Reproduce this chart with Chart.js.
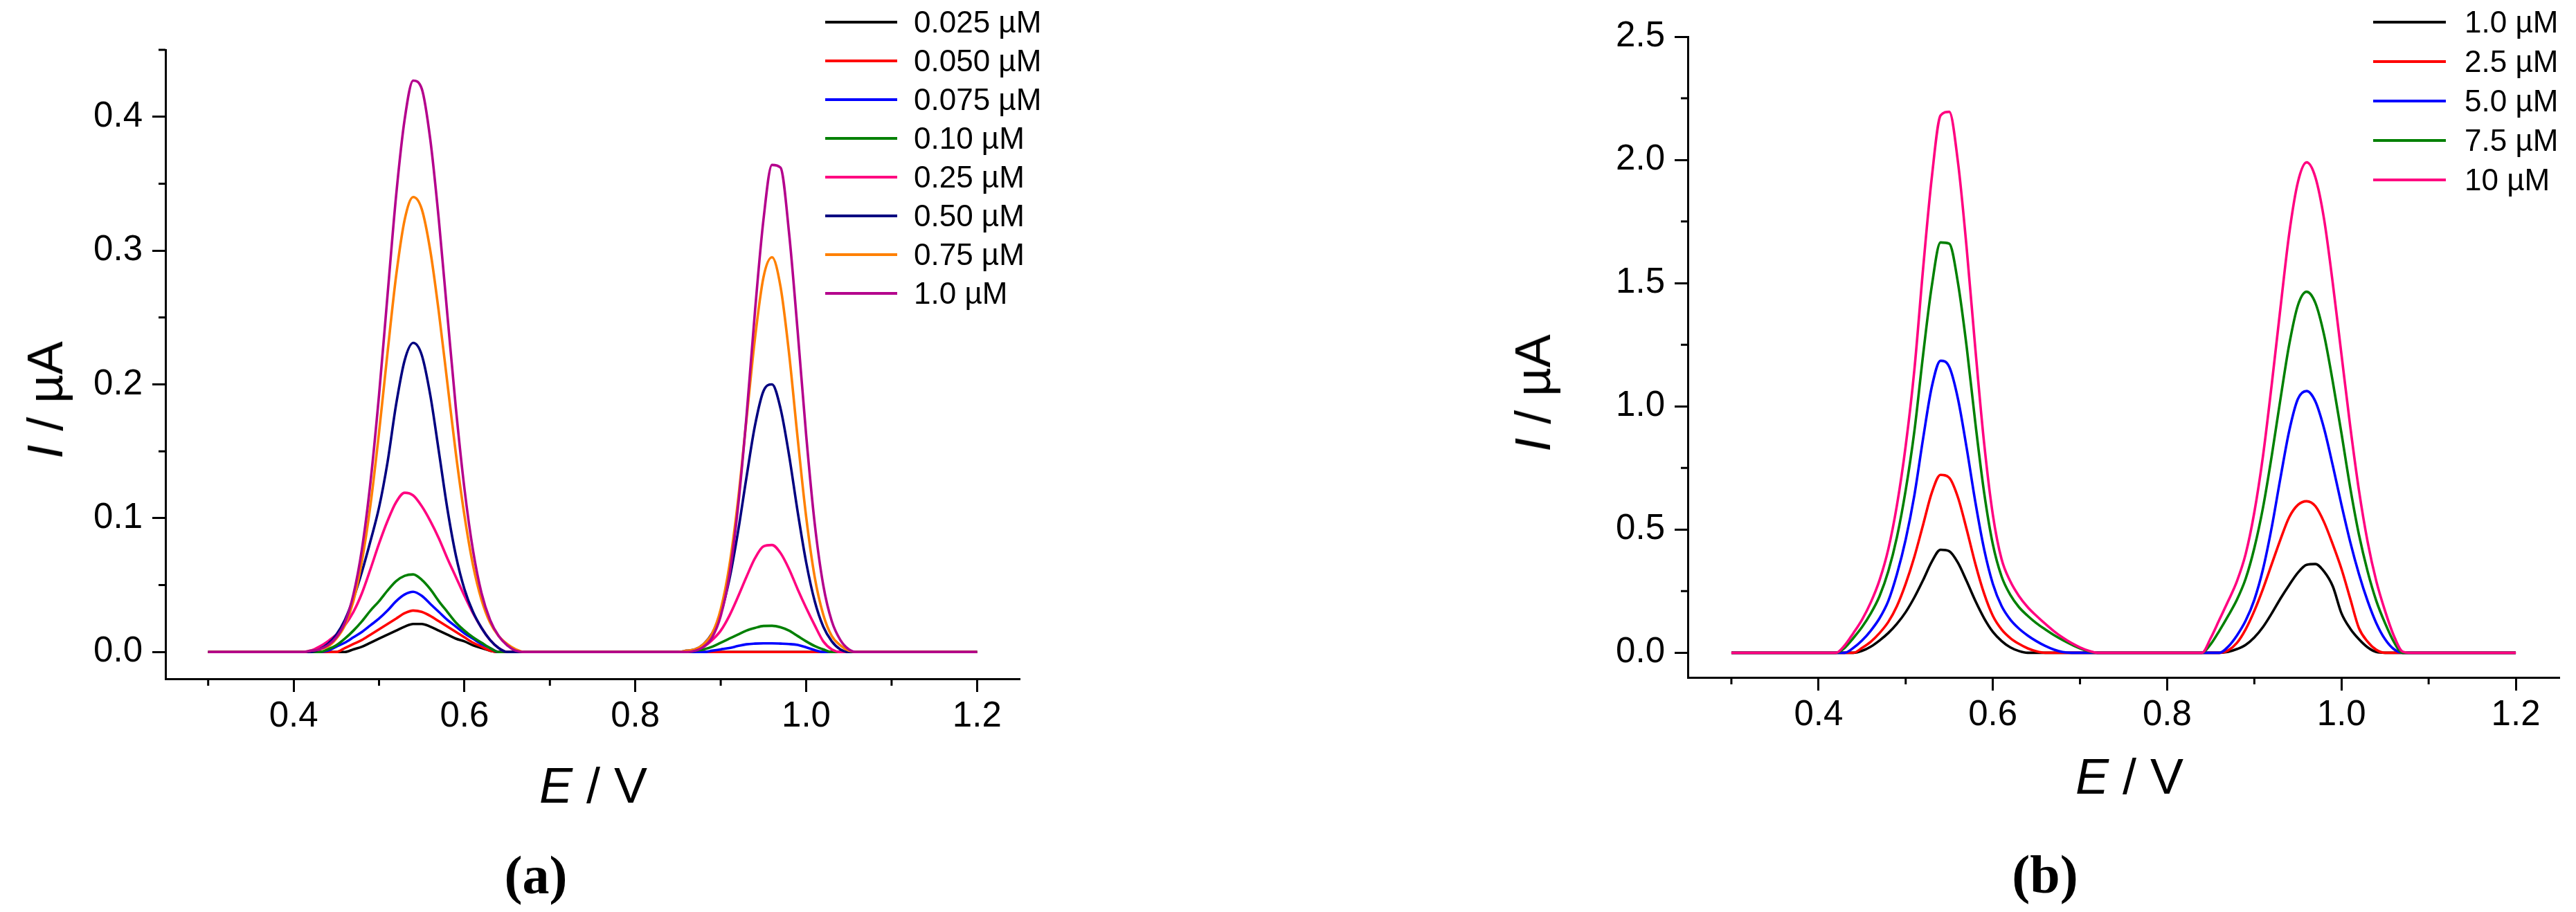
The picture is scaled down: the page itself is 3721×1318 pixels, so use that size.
<!DOCTYPE html>
<html>
<head>
<meta charset="utf-8">
<script src="https://cdn.jsdelivr.net/npm/chart.js@4.4.1/dist/chart.umd.min.js"></script>
<style>
  html, body { margin: 0; padding: 0; background: #fff; }
  body { width: 3721px; height: 1318px; position: relative; overflow: hidden;
         font-family: "Liberation Sans", Arial, sans-serif; color: #000; }
  canvas { position: absolute; top: 0; }
  .lbl { position: absolute; white-space: nowrap; line-height: 1; transform: translate(-50%, -50%); }
  .ytitle { transform: translate(-50%, -50%) rotate(-90deg); }
  .title { font-size: 72px; }
  .cap { font-family: "Liberation Serif", "Times New Roman", serif; font-weight: bold; font-size: 78px; }
  .legLine { position: absolute; height: 4px; }
  .legText { position: absolute; font-size: 44px; line-height: 1; white-space: nowrap; transform: translateY(-50%); }
</style>
</head>
<body>
<canvas id="chartA" width="1560" height="1318" style="left:0px;width:1560px;height:1318px"></canvas>
<canvas id="chartB" width="1721" height="1318" style="left:2000px;width:1721px;height:1318px"></canvas>

<div class="lbl ytitle title" style="left:65px;top:578px"><i>I</i> / µA</div>
<div class="lbl title" style="left:857px;top:1135px"><i>E</i> / V</div>
<div class="lbl cap" style="left:774px;top:1265px">(a)</div>

<div class="lbl ytitle title" style="left:2214px;top:568px"><i>I</i> / µA</div>
<div class="lbl title" style="left:3076px;top:1122px"><i>E</i> / V</div>
<div class="lbl cap" style="left:2954px;top:1264px">(b)</div>

<script>
// potential axis (V), shared by every curve
const E = [0.30,
  0.40, 0.41, 0.42, 0.43, 0.44, 0.45, 0.46, 0.47, 0.48, 0.49, 0.50, 0.51, 0.52, 0.53, 0.54, 0.55, 0.56,
  0.57, 0.58, 0.59, 0.60, 0.61, 0.62, 0.63, 0.64, 0.65, 0.66, 0.67, 0.68, 0.69, 0.70, 0.71, 0.72,
  0.80,
  0.84, 0.85, 0.86, 0.87, 0.88, 0.89, 0.90, 0.91, 0.92, 0.93, 0.94, 0.95, 0.96, 0.97, 0.98, 0.99, 1.00,
  1.01, 1.02, 1.03, 1.04, 1.05, 1.06, 1.07, 1.08,
  1.20];

// panel (a): current (µA)
const labelsA = ["0.025 µM", "0.050 µM", "0.075 µM", "0.10 µM", "0.25 µM", "0.50 µM", "0.75 µM", "1.0 µM"];
const colorsA = ["#000000", "#ff0000", "#0000ff", "#008000", "#ff0080", "#000080", "#ff8000", "#b4008c"];

const a0025 = [0,
  0, 0, 0, 0, 0, 0, 0, 0.002, 0.004, 0.007, 0.010, 0.013, 0.016, 0.019, 0.021, 0.021, 0.019,
  0.016, 0.013, 0.010, 0.008, 0.005, 0.003, 0.001, 0, 0, 0, 0, 0, 0, 0, 0, 0,
  0,
  0, 0, 0, 0, 0, 0, 0, 0, 0, 0, 0, 0, 0, 0, 0, 0, 0, 0, 0, 0, 0, 0, 0, 0, 0,
  0];
const a0050 = [0,
  0, 0, 0, 0, 0, 0, 0.003, 0.006, 0.009, 0.013, 0.017, 0.021, 0.025, 0.029, 0.031, 0.030, 0.027,
  0.023, 0.019, 0.015, 0.011, 0.007, 0.004, 0.001, 0, 0, 0, 0, 0, 0, 0, 0, 0,
  0,
  0, 0, 0, 0, 0, 0, 0, 0, 0, 0, 0, 0, 0, 0, 0, 0, 0, 0, 0, 0, 0, 0, 0, 0, 0,
  0];
const a0075 = [0,
  0, 0, 0, 0, 0.001, 0.004, 0.007, 0.011, 0.015, 0.020, 0.025, 0.031, 0.038, 0.043, 0.045, 0.042, 0.036,
  0.030, 0.024, 0.019, 0.014, 0.010, 0.006, 0.003, 0, 0, 0, 0, 0, 0, 0, 0, 0,
  0,
  0, 0, 0, 0, 0, 0.001, 0.002, 0.003, 0.0045, 0.0058, 0.0063, 0.0065, 0.0065, 0.0063, 0.006, 0.0053, 0.0035,
  0.0015, 0, 0, 0, 0, 0, 0, 0,
  0];
const a010 = [0,
  0, 0, 0, 0, 0.002, 0.005, 0.010, 0.016, 0.023, 0.031, 0.038, 0.046, 0.053, 0.057, 0.058, 0.054, 0.047,
  0.038, 0.030, 0.022, 0.016, 0.011, 0.007, 0.003, 0, 0, 0, 0, 0, 0, 0, 0, 0,
  0,
  0, 0, 0, 0.001, 0.002, 0.004, 0.007, 0.010, 0.013, 0.016, 0.018, 0.0195, 0.0196, 0.0185, 0.016, 0.012, 0.008,
  0.0045, 0.002, 0, 0, 0, 0, 0, 0,
  0];
const a025 = [0,
  0, 0, 0.001, 0.004, 0.008, 0.013, 0.020, 0.030, 0.044, 0.062, 0.081, 0.098, 0.112, 0.119, 0.117, 0.109, 0.098,
  0.085, 0.070, 0.056, 0.042, 0.029, 0.018, 0.009, 0.003, 0, 0, 0, 0, 0, 0, 0, 0,
  0,
  0, 0, 0, 0.002, 0.004, 0.009, 0.016, 0.027, 0.041, 0.056, 0.070, 0.079, 0.080, 0.074, 0.062, 0.047, 0.033,
  0.020, 0.008, 0.002, 0, 0, 0, 0, 0,
  0];
const a050 = [0,
  0, 0, 0, 0.002, 0.006, 0.013, 0.024, 0.040, 0.060, 0.083, 0.108, 0.142, 0.185, 0.218, 0.231, 0.222, 0.192,
  0.150, 0.107, 0.072, 0.047, 0.030, 0.018, 0.009, 0.003, 0, 0, 0, 0, 0, 0, 0, 0,
  0,
  0, 0, 0.001, 0.002, 0.006, 0.014, 0.029, 0.054, 0.089, 0.130, 0.169, 0.195, 0.200, 0.182, 0.147, 0.105, 0.067,
  0.038, 0.019, 0.008, 0.002, 0, 0, 0, 0,
  0];
const a075 = [0,
  0, 0, 0.001, 0.002, 0.004, 0.010, 0.020, 0.038, 0.068, 0.110, 0.164, 0.224, 0.281, 0.323, 0.340, 0.331, 0.300,
  0.254, 0.201, 0.148, 0.102, 0.065, 0.039, 0.022, 0.012, 0.006, 0.002, 0, 0, 0, 0, 0, 0,
  0,
  0, 0, 0.001, 0.002, 0.006, 0.014, 0.032, 0.064, 0.112, 0.173, 0.234, 0.280, 0.295, 0.273, 0.223, 0.160, 0.101,
  0.056, 0.028, 0.012, 0.005, 0.001, 0, 0, 0,
  0];
const a100 = [0,
  0, 0, 0.001, 0.002, 0.005, 0.011, 0.022, 0.043, 0.077, 0.127, 0.192, 0.267, 0.341, 0.398, 0.427, 0.421, 0.383,
  0.323, 0.252, 0.182, 0.122, 0.076, 0.044, 0.024, 0.012, 0.005, 0.001, 0, 0, 0, 0, 0, 0,
  0,
  0, 0, 0, 0.001, 0.004, 0.011, 0.027, 0.057, 0.107, 0.175, 0.254, 0.323, 0.364, 0.362, 0.313, 0.240, 0.162,
  0.096, 0.050, 0.023, 0.009, 0.002, 0, 0, 0,
  0];

// panel (b): current (µA)
const labelsB = ["1.0 µM", "2.5 µM", "5.0 µM", "7.5 µM", "10 µM"];
const colorsB = ["#000000", "#ff0000", "#0000ff", "#008000", "#ff0080"];

const b10 = [0,
  0, 0, 0, 0, 0, 0.008, 0.025, 0.050, 0.080, 0.118, 0.165, 0.225, 0.295, 0.370, 0.418, 0.412, 0.365,
  0.290, 0.210, 0.140, 0.085, 0.048, 0.022, 0.007, 0, 0, 0, 0, 0, 0, 0, 0, 0,
  0,
  0, 0, 0, 0.004, 0.015, 0.032, 0.062, 0.105, 0.160, 0.220, 0.275, 0.325, 0.357, 0.360, 0.330, 0.270, 0.160,
  0.098, 0.055, 0.022, 0.003, 0, 0, 0, 0,
  0];
const b25 = [0,
  0, 0, 0, 0, 0, 0.020, 0.045, 0.080, 0.125, 0.190, 0.280, 0.390, 0.520, 0.650, 0.722, 0.710, 0.630,
  0.500, 0.360, 0.240, 0.150, 0.095, 0.060, 0.036, 0.018, 0.006, 0, 0, 0, 0, 0, 0, 0,
  0,
  0, 0, 0, 0.010, 0.040, 0.095, 0.170, 0.260, 0.360, 0.460, 0.550, 0.600, 0.615, 0.595, 0.530, 0.440, 0.340,
  0.220, 0.100, 0.045, 0.012, 0, 0, 0, 0,
  0];
const b50 = [0,
  0, 0, 0, 0, 0.020, 0.050, 0.090, 0.140, 0.210, 0.320, 0.460, 0.640, 0.870, 1.080, 1.185, 1.160, 1.030,
  0.830, 0.610, 0.420, 0.280, 0.190, 0.135, 0.098, 0.070, 0.047, 0.028, 0.013, 0.003, 0, 0, 0, 0,
  0,
  0, 0, 0, 0.025, 0.070, 0.130, 0.215, 0.340, 0.510, 0.710, 0.900, 1.030, 1.062, 1.020, 0.910, 0.760, 0.600,
  0.450, 0.320, 0.210, 0.120, 0.055, 0.015, 0, 0,
  0];
const b75 = [0,
  0, 0, 0, 0.020, 0.060, 0.105, 0.160, 0.230, 0.330, 0.470, 0.660, 0.900, 1.210, 1.490, 1.665, 1.660, 1.500,
  1.240, 0.930, 0.650, 0.440, 0.310, 0.235, 0.185, 0.150, 0.120, 0.095, 0.072, 0.052, 0.034, 0.018, 0.006, 0,
  0,
  0, 0.035, 0.090, 0.150, 0.215, 0.300, 0.425, 0.590, 0.800, 1.030, 1.250, 1.410, 1.465, 1.420, 1.290, 1.100, 0.890,
  0.670, 0.480, 0.330, 0.210, 0.120, 0.045, 0, 0,
  0];
const b100 = [0,
  0, 0, 0, 0.030, 0.080, 0.135, 0.205, 0.295, 0.420, 0.600, 0.840, 1.150, 1.560, 1.930, 2.180, 2.195, 1.990,
  1.640, 1.230, 0.850, 0.560, 0.380, 0.290, 0.230, 0.185, 0.150, 0.118, 0.088, 0.062, 0.040, 0.022, 0.008, 0,
  0,
  0, 0.060, 0.135, 0.210, 0.290, 0.400, 0.570, 0.800, 1.090, 1.400, 1.700, 1.910, 1.990, 1.930, 1.760, 1.500, 1.210,
  0.920, 0.660, 0.450, 0.290, 0.170, 0.070, 0.005, 0,
  0];

// ticks
const xTicks = [0.4, 0.6, 0.8, 1.0, 1.2];
const xMinor = [0.3, 0.5, 0.7, 0.9, 1.1];
const yTicksA = [0.0, 0.1, 0.2, 0.3, 0.4];
const yMinorA = [0.05, 0.15, 0.25, 0.35, 0.45];
const yTicksB = [0.0, 0.5, 1.0, 1.5, 2.0, 2.5];
const yMinorB = [0.25, 0.75, 1.25, 1.75, 2.25];

// short unlabelled ticks between the labelled ones
const minorTicks = {
  id: "minorTicks",
  afterDraw(chart, args, opts) {
    const ctx = chart.ctx;
    const xs = chart.scales.x, ys = chart.scales.y;
    ctx.save();
    ctx.strokeStyle = "#000";
    ctx.lineWidth = 3;
    ctx.beginPath();
    opts.x.forEach(v => {
      const px = xs.getPixelForValue(v);
      ctx.moveTo(px, ys.bottom);
      ctx.lineTo(px, ys.bottom + opts.len);
    });
    opts.y.forEach(v => {
      const py = ys.getPixelForValue(v);
      ctx.moveTo(xs.left, py);
      ctx.lineTo(xs.left - opts.len, py);
    });
    ctx.stroke();
    ctx.restore();
  }
};

function drawPanel(p) {
  const datasets = p.series.map((vals, i) => ({
    label: p.labels[i],
    data: E.map((e, k) => ({ x: e, y: vals[k] })),
    borderColor: p.colors[i],
    borderWidth: 3.6,
    pointRadius: 0,
    fill: false,
    cubicInterpolationMode: "monotone",
    order: p.series.length - i
  }));

  const tickFont = { family: "Liberation Sans", size: 51 };

  new Chart(document.getElementById(p.id), {
    type: "line",
    data: { datasets: datasets },
    options: {
      responsive: false,
      animation: false,
      layout: { padding: p.pad },
      plugins: {
        legend: { display: false },
        tooltip: { enabled: false },
        minorTicks: { x: xMinor, y: p.yMinor, len: 10 }
      },
      scales: {
        x: {
          type: "linear",
          min: 0.25,
          max: 1.25,
          border: { display: true, color: "#000", width: 3 },
          grid: { drawOnChartArea: false, tickLength: 19, tickWidth: 3, tickColor: "#000" },
          ticks: { color: "#000", font: tickFont, padding: 5, maxRotation: 0,
                   callback: v => v.toFixed(1) },
          afterBuildTicks: s => { s.ticks = xTicks.map(v => ({ value: v })); },
          afterFit: s => { s.height = 100; }
        },
        y: {
          type: "linear",
          min: p.yMin,
          max: p.yMax,
          border: { display: true, color: "#000", width: 3 },
          grid: { drawOnChartArea: false, tickLength: 19, tickWidth: 3, tickColor: "#000" },
          ticks: { color: "#000", font: tickFont, padding: 14,
                   callback: v => v.toFixed(1) },
          afterBuildTicks: s => { s.ticks = p.yTicks.map(v => ({ value: v })); },
          afterFit: s => { s.width = p.yWidth; }
        }
      }
    },
    plugins: [minorTicks]
  });

  // legend
  p.labels.forEach((lab, i) => {
    const y = p.leg.y0 + i * p.leg.dy;
    const line = document.createElement("div");
    line.className = "legLine";
    line.style.left = p.leg.lineX + "px";
    line.style.width = p.leg.lineW + "px";
    line.style.top = (y - 2) + "px";
    line.style.background = p.colors[i];
    document.body.appendChild(line);
    const txt = document.createElement("div");
    txt.className = "legText";
    txt.style.left = p.leg.textX + "px";
    txt.style.top = y + "px";
    txt.textContent = lab;
    document.body.appendChild(txt);
  });
}

drawPanel({
  id: "chartA",
  series: [a0025, a0050, a0075, a010, a025, a050, a075, a100],
  labels: labelsA,
  colors: colorsA,
  pad: { top: 72, right: 87, bottom: 237, left: 0 },
  yWidth: 239,
  yMin: -0.02,
  yMax: 0.45,
  yTicks: yTicksA,
  yMinor: yMinorA,
  leg: { lineX: 1192, lineW: 104, textX: 1320, y0: 32, dy: 56 }
});

drawPanel({
  id: "chartB",
  series: [b10, b25, b50, b75, b100],
  labels: labelsB,
  colors: colorsB,
  pad: { top: 53, right: 24, bottom: 239, left: 0 },
  yWidth: 438,
  yMin: -0.1,
  yMax: 2.5,
  yTicks: yTicksB,
  yMinor: yMinorB,
  leg: { lineX: 3428, lineW: 105, textX: 3560, y0: 32, dy: 57 }
});
</script>
</body>
</html>
